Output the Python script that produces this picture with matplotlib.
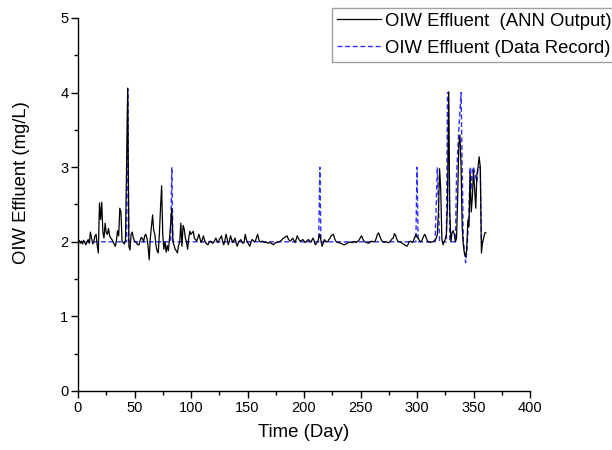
import matplotlib
matplotlib.use("Agg")
import matplotlib.pyplot as plt
from matplotlib.ticker import MultipleLocator

plt.rcParams['font.family'] = ['Liberation Sans', 'DejaVu Sans']

# ANN output, one value per day (day 0 .. 361)
ann_output = [
    2.00, 2.02, 1.98, 2.01, 1.97, 2.02, 1.99, 1.96, 2.00, 2.03,
    1.98, 2.13, 2.05, 1.97, 2.00, 2.08, 2.10, 1.95, 1.85, 2.52,
    2.30, 2.53, 2.13, 2.05, 2.25, 2.12, 2.10, 2.18, 2.08, 2.05,
    2.03, 2.00, 1.97, 1.94, 2.02, 2.15, 2.08, 2.45, 2.40, 2.00,
    1.99, 1.97, 2.02, 3.06, 4.06, 1.94, 1.89, 2.10, 2.13, 2.05,
    2.01, 2.00, 1.98, 1.96, 1.96, 2.02, 2.06, 2.04, 2.00, 2.08,
    2.10, 2.05, 1.94, 1.76, 2.05, 2.20, 2.36, 2.15, 2.10, 1.95,
    1.88, 1.85, 2.10, 2.45, 2.75, 2.10, 1.90, 2.00, 1.86, 1.95,
    1.88, 2.05, 2.25, 2.45, 2.00, 1.95, 1.90, 1.88, 1.85, 1.95,
    2.00, 2.25, 1.94, 2.22, 2.17, 2.05, 2.00, 1.90, 2.05, 2.14,
    2.10, 2.12, 2.14, 2.05, 2.03, 2.01, 2.05, 2.10, 2.04, 1.99,
    2.03, 2.08, 2.02, 1.99, 1.97, 1.96, 1.99, 2.01, 2.00, 1.98,
    1.99, 2.02, 2.05, 2.01, 1.99, 2.03, 2.05, 2.08, 2.00, 1.96,
    2.02, 2.10, 2.04, 1.96, 2.01, 2.08, 2.03, 1.99, 2.02, 2.05,
    1.98, 1.94, 2.00, 2.01, 2.03, 2.00, 1.98, 1.99, 2.10, 2.03,
    1.99, 1.97, 1.94, 1.99, 2.03, 2.02, 2.00, 2.01, 2.06, 2.10,
    2.03, 2.00, 2.00, 2.01, 2.00, 1.99, 2.00, 1.99, 1.98, 1.99,
    1.99, 1.98, 1.97, 1.96, 1.98, 1.99, 1.99, 2.00, 2.00, 2.01,
    2.02, 2.04, 2.05, 2.06, 2.07, 2.08, 2.04, 2.02, 2.01, 2.03,
    2.05, 2.02, 1.99, 2.03, 2.08, 2.05, 2.02, 2.01, 2.02, 2.03,
    2.01, 1.99, 2.00, 2.02, 2.03, 2.01, 2.00, 2.02, 2.05, 2.01,
    1.96, 1.98, 2.00, 2.05, 2.10, 2.02, 1.94, 1.98, 2.03, 2.01,
    2.00, 2.00, 2.03, 2.05, 2.08, 2.09, 2.10, 2.05, 2.01, 2.00,
    1.99, 1.99, 1.98, 1.98, 1.97, 1.96, 1.96, 1.97, 1.98, 1.99,
    1.99, 2.00, 1.99, 1.99, 2.00, 2.00, 1.99, 2.00, 2.01, 2.03,
    2.06, 2.08, 2.04, 2.01, 2.00, 1.99, 1.99, 1.98, 1.99, 2.00,
    2.01, 2.00, 2.00, 2.01, 2.05, 2.10, 2.12, 2.08, 2.04, 2.01,
    2.00, 1.99, 2.00, 2.00, 1.99, 1.99, 2.00, 2.02, 2.04, 2.05,
    2.11, 2.09, 2.04, 2.01, 2.00, 2.00, 1.99, 1.98, 1.97, 1.96,
    1.95, 1.94, 1.96, 2.00, 2.01, 2.00, 1.99, 2.02, 2.06, 2.10,
    2.07, 2.05, 2.02, 2.00, 2.01, 2.04, 2.08, 2.10, 2.06, 2.02,
    2.00, 2.00, 1.99, 2.00, 2.00, 2.01, 2.02, 2.05, 2.10, 2.40,
    2.98, 2.70, 2.05, 1.96, 2.00, 2.03, 2.10, 2.50, 4.01, 2.40,
    2.00, 2.12, 2.15, 2.10, 2.00, 2.05, 2.60, 3.30, 3.43, 3.00,
    2.20, 1.95, 1.84, 1.80, 1.90, 2.29, 2.20, 2.92, 2.40, 2.60,
    2.96, 2.70, 2.45, 2.90, 3.00, 3.14, 3.00, 1.85, 2.00, 2.05,
    2.12, 2.12,
]
ann_days = list(range(len(ann_output)))

# Data record: value changes (straight 2.0 between listed days)
record_days = [0, 43, 44, 45, 82, 83, 84, 213, 214, 215, 299, 300, 301,
               316, 318, 320, 326, 327, 328, 329, 334, 335, 336, 337, 338,
               339, 341, 342, 343, 344, 345, 346, 347, 348, 349, 350, 353,
               354, 356, 357, 359]
record_vals = [2.0, 2.0, 4.05, 2.0, 2.0, 3.0, 2.0, 2.0, 3.0, 2.0, 2.0, 3.0, 2.0,
               2.0, 3.0, 2.0, 2.0, 4.0, 4.0, 2.0, 2.0, 2.9, 3.2, 3.5, 3.75,
               4.0, 2.0, 1.9, 1.72, 1.85, 2.1, 2.4, 3.0, 2.7, 3.0, 3.0, 2.8,
               3.0, 3.0, 2.0, 2.0]

fig = plt.figure(figsize=(6.12, 4.5), dpi=100)
ax = fig.add_axes([78 / 612, 59 / 450, 452 / 612, 373 / 450])

ax.plot(ann_days, ann_output, color='black', lw=0.9,
        label='OIW Effluent  (ANN Output)', zorder=3)
ax.plot(record_days, record_vals, color='#3030ff', lw=1.0,
        dashes=(3.5, 2.0), label='OIW Effluent (Data Record)', zorder=2)

ax.set_xlim(0, 400)
ax.set_ylim(0, 5)
ax.xaxis.set_major_locator(MultipleLocator(50))
ax.xaxis.set_minor_locator(MultipleLocator(25))
ax.yaxis.set_major_locator(MultipleLocator(1))
ax.yaxis.set_minor_locator(MultipleLocator(0.5))
ax.tick_params(which='major', direction='out', length=5, width=1,
               labelsize=10.5, pad=2)
ax.tick_params(which='minor', direction='out', length=3, width=1)

for s in ['top', 'right']:
    ax.spines[s].set_visible(False)
for s in ['left', 'bottom']:
    ax.spines[s].set_linewidth(1.0)

ax.set_xlabel('Time (Day)', fontsize=13.4, labelpad=7)
ax.set_ylabel('OIW Effluent (mg/L)', fontsize=13.3)
ax.yaxis.set_label_coords(-0.106, 0.56)

leg = fig.legend(loc='upper left', bbox_to_anchor=(332 / 612, 1 - 8 / 450),
                 fontsize=13.3, frameon=True, fancybox=False,
                 borderpad=0.25, borderaxespad=0, handlelength=2.4,
                 handletextpad=0.2, labelspacing=0.56)
leg.get_frame().set_edgecolor('#888888')
leg.get_frame().set_linewidth(1.0)

fig.savefig('out.png', dpi=100)
